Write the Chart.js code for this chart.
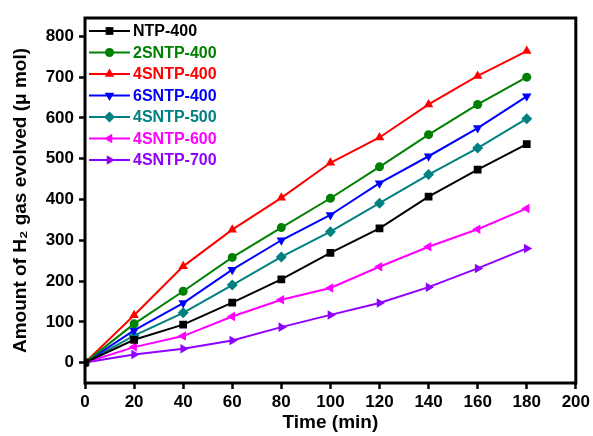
<!DOCTYPE html>
<html>
<head>
<meta charset="utf-8">
<script src="https://cdn.jsdelivr.net/npm/chart.js@4/dist/chart.umd.min.js"></script>
<style>
  html, body { margin: 0; padding: 0; background: #fff; }
  #wrap { width: 593px; height: 436px; }
</style>
</head>
<body>
<div id="wrap"><canvas id="chart" width="593" height="436"></canvas></div>
<script>
// time points (min)
var times = [0, 20, 40, 60, 80, 100, 120, 140, 160, 180];

// H2 evolved (umol) for each sample
var ntp400   = [0, 56, 93, 147, 204, 269, 329, 407, 473, 536];
var sntp2400 = [0, 95, 175, 258, 331, 403, 480, 559, 633, 700];
var sntp4400 = [0, 116, 236, 326, 404, 490, 552, 633, 703, 764];
var sntp6400 = [0, 79, 146, 228, 300, 362, 440, 506, 575, 653];
var sntp4500 = [0, 66, 122, 190, 259, 321, 391, 461, 526, 598];
var sntp4600 = [0, 38, 65, 113, 154, 183, 235, 284, 327, 378];
var sntp4700 = [0, 20, 34, 54, 87, 117, 146, 185, 231, 280];

var seriesNames = ['NTP-400', '2SNTP-400', '4SNTP-400', '6SNTP-400', '4SNTP-500', '4SNTP-600', '4SNTP-700'];
var seriesData  = [ntp400, sntp2400, sntp4400, sntp6400, sntp4500, sntp4600, sntp4700];

var yTicks = [0, 100, 200, 300, 400, 500, 600, 700, 800];

var colors = ['#000000', '#008000', '#ff0000', '#0000ff', '#008080', '#ff00ff', '#9000ff'];
var shapes = [
  { style: 'rect', rot: 0 },
  { style: 'circle', rot: 0 },
  { style: 'triangle', rot: 0 },
  { style: 'triangle', rot: 180 },
  { style: 'rectRot', rot: 0 },
  { style: 'triangle', rot: -90 },
  { style: 'triangle', rot: 90 }
];

var FONT = 'Liberation Sans, Arial, sans-serif';

/*
 * build one line dataset
 * [i] - index of series
 */
function makeDataset(i) {
  return {
    label: seriesNames[i],
    data: times.map(function (t, k) { return { x: t, y: seriesData[i][k] }; }),
    borderColor: colors[i],
    backgroundColor: colors[i],
    borderWidth: 2,
    pointStyle: shapes[i].style,
    rotation: shapes[i].rot,
    pointRadius: shapes[i].style == 'circle' ? 4.5 : 5.5,
    pointBorderWidth: 0,
    fill: false,
    tension: 0
  };
}

// frame around plot area
var framePlugin = {
  id: 'frame',
  afterDatasetsDraw: function (c) {
    var a = c.chartArea, ctx = c.ctx;
    ctx.save();
    ctx.strokeStyle = '#000';
    ctx.lineWidth = 3;
    ctx.strokeRect(a.left, a.top, a.right - a.left, a.bottom - a.top);
    ctx.restore();
  }
};

// legend drawn inside the plot: line with marker, coloured label
var legendPlugin = {
  id: 'insideLegend',
  afterDraw: function (c) {
    var ctx = c.ctx, a = c.chartArea;
    var x0 = a.left + 4, x1 = a.left + 45, y = a.top + 13, step = 21.5;
    ctx.save();
    for (var i = 0; i < seriesNames.length; i++) {
      ctx.strokeStyle = colors[i];
      ctx.lineWidth = 2;
      ctx.beginPath();
      ctx.moveTo(x0, y);
      ctx.lineTo(x1, y);
      ctx.stroke();
      ctx.fillStyle = colors[i];
      Chart.helpers.drawPoint(ctx, {
        pointStyle: shapes[i].style,
        rotation: shapes[i].rot,
        radius: shapes[i].style == 'circle' ? 4.5 : 5.5,
        borderWidth: 0
      }, (x0 + x1) / 2, y);
      ctx.font = 'bold 16px ' + FONT;
      ctx.textBaseline = 'middle';
      ctx.textAlign = 'left';
      ctx.fillText(seriesNames[i], x1 + 3, y + 1);
      y += step;
    }
    ctx.restore();
  }
};

chart = new Chart('chart', {
  type: 'line',
  data: { datasets: seriesNames.map(function (n, i) { return makeDataset(i); }) },
  options: {
    responsive: false,
    animation: false,
    layout: { padding: { top: 18, right: 16, left: 0, bottom: 0 } },
    plugins: { legend: { display: false }, tooltip: { enabled: false } },
    scales: {
      x: {
        type: 'linear',
        min: 0,
        max: 200,
        ticks: { stepSize: 20, color: '#000', padding: 3, maxRotation: 0,
                 font: { family: FONT, size: 17, weight: 'bold' } },
        grid: { drawOnChartArea: false, color: '#000', tickLength: 6, tickWidth: 2.5 },
        border: { display: false },
        title: { display: true, text: 'Time (min)', color: '#000', padding: { top: 0, bottom: 2 },
                 font: { family: FONT, size: 19, weight: 'bold' } },
        afterFit: function (s) { s.height = 53; }
      },
      y: {
        min: -50,
        max: 845,
        afterBuildTicks: function (s) { s.ticks = yTicks.map(function (v) { return { value: v }; }); },
        ticks: { color: '#000', padding: 5,
                 font: { family: FONT, size: 17, weight: 'bold' } },
        grid: { drawOnChartArea: false, color: '#000', tickLength: 6, tickWidth: 2.5 },
        border: { display: false },
        title: { display: true, text: 'Amount of H\u2082 gas evolved (\u03bc mol)', color: '#000',
                 padding: { top: 9, bottom: 4 },
                 font: { family: FONT, size: 19, weight: 'bold' } },
        afterFit: function (s) { s.width = 85; }
      }
    }
  },
  plugins: [framePlugin, legendPlugin]
});
</script>
</body>
</html>
